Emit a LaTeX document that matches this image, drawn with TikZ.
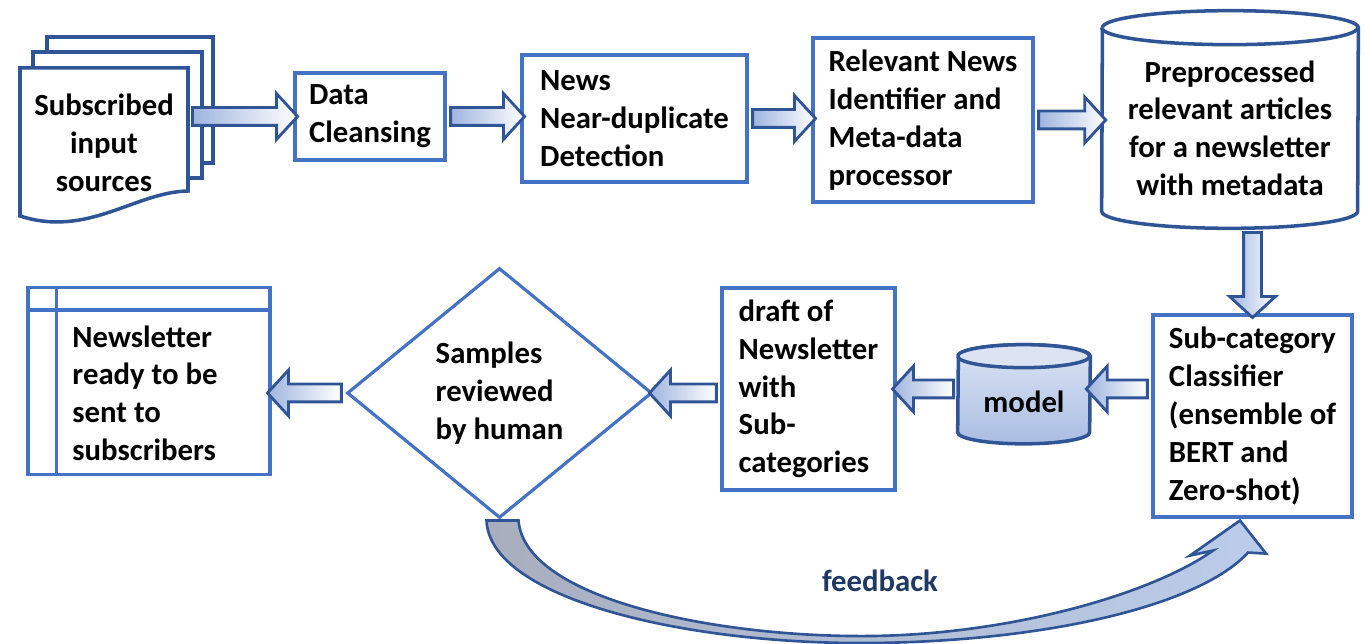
\documentclass[tikz,border=0pt]{standalone}
\usepackage{fontspec}
\setmainfont{Carlito}
\usetikzlibrary{shapes.geometric, shapes.arrows, calc}

\definecolor{boxblue}{HTML}{4472C4}
\definecolor{darkblue}{HTML}{2F5597}
\definecolor{flowfill}{HTML}{9FB5DF}
\definecolor{navy}{HTML}{1F3864}
\definecolor{modeltop}{HTML}{DCE4F3}
\definecolor{modelbot}{HTML}{A9BDE3}
\definecolor{fbgray}{HTML}{A9AEBD}
\definecolor{fbblue}{HTML}{BBCDEB}

% block arrow from one anchor to another
\newcommand{\flowto}[2]{%
  \path let \p1=(#1), \p2=(#2),
    \n1={atan2(\y2-\y1,\x2-\x1)}, \n2={veclen(\x2-\x1,\y2-\y1)} in
    node[flowarrow, rotate=\n1, minimum height=\n2] at ($(\p1)!0.5!(\p2)$) {};}

\begin{document}
\begin{tikzpicture}[
    x=0.02cm, y=0.02cm,
    font=\bfseries\fontsize{17.5}{21.5}\selectfont,
    proc/.style={draw=boxblue, line width=1.8pt, fill=white, align=left, inner sep=0pt},
    store/.style={draw=darkblue, line width=2pt, fill=white},
    flowarrow/.style={single arrow, draw=darkblue, line width=1.6pt,
        left color=flowfill, right color=white, inner ysep=0.15cm, inner xsep=0pt,
        single arrow head extend=0.28cm, single arrow tip angle=95, outer sep=0pt}
]
    \useasboundingbox (0,0) rectangle (1365,-644);

    % Subscribed sources (stack of documents)
    \draw[store] (47,-37) rectangle (213,-163);
    \draw[store] (33,-52) rectangle (202,-178);
    \draw[store] (20,-68) -- (188,-68) -- (188,-191)
        .. controls (135,-192) and (88,-238) .. (20,-216) -- cycle;
    \node[align=center, minimum width=3.36cm, minimum height=2.4cm, inner sep=0pt] (src) at (104,-143)
        {Subscribed\\input\\sources};

    % Top row of steps
    \node[proc, minimum width=3cm, minimum height=1.74cm] (clean) at (370,-116.5) {Data\\Cleansing};
    \node[proc, minimum width=4.5cm, minimum height=2.54cm] (near) at (634.5,-118.5)
        {News\\Near-duplicate\\Detection};
    \node[proc, minimum width=4.4cm, minimum height=3.28cm] (relevant) at (923,-120)
        {Relevant News\\Identifier and\\Meta-data\\processor};

    % Preprocessed articles store
    \node[minimum width=5.12cm, minimum height=3.32cm, inner sep=0pt] (prep) at (1230,-128) {};
    \draw[store] (prep.south west) arc[start angle=180, end angle=360, x radius=2.56cm, y radius=0.34cm]
        -- ($(prep.north east)+(0,17)$) arc[start angle=0, end angle=180, x radius=2.56cm, y radius=0.34cm]
        -- cycle;
    \draw[store] ($(prep.north west)+(0,17)$) arc[start angle=180, end angle=360, x radius=2.56cm, y radius=0.34cm];
    \node[align=center] at (prep) {Preprocessed\\relevant articles\\for a newsletter\\with metadata};

    % Bottom row
    \node[proc, minimum width=3.98cm, minimum height=4.04cm] (sub) at (1252.5,-416)
        {Sub-category\\Classifier\\(ensemble of\\BERT and\\Zero-shot)};
    \node[minimum width=2.64cm, minimum height=1.28cm, inner sep=0pt] (model) at (1024,-400) {};
    \draw[store, top color=modeltop, bottom color=modelbot] (model.south west)
        arc[start angle=180, end angle=360, x radius=1.32cm, y radius=0.23cm]
        -- ($(model.north east)+(0,11.5)$) arc[start angle=0, end angle=180, x radius=1.32cm, y radius=0.23cm]
        -- cycle;
    \draw[store, fill=modeltop] ($(model.north west)+(0,11.5)$)
        arc[start angle=180, end angle=360, x radius=1.32cm, y radius=0.23cm]
        arc[start angle=0, end angle=180, x radius=1.32cm, y radius=0.23cm];
    \node at ($(model)+(0,-2)$) {model};
    \node[proc, minimum width=3.46cm, minimum height=4.04cm] (draft) at (808.5,-389)
        {draft of\\Newsletter\\with\\Sub-\\categories};
    \node[proc, diamond, aspect=1.22, minimum width=6.1cm, minimum height=5cm] (review) at (499.5,-393)
        {Samples\\reviewed\\by human};
    \node[proc, minimum width=4.84cm, minimum height=3.74cm] (letter) at (149,-381) {};
    \draw[boxblue, line width=1.8pt] ($(letter.north west)+(0,-24)$) -- ($(letter.north east)+(0,-24)$);
    \draw[boxblue, line width=1.8pt] ($(letter.north west)+(30,0)$) -- ($(letter.south west)+(30,0)$);
    \node[align=left] (lettertext) at (145,-393) {Newsletter\\ready to be\\sent to\\subscribers};

    % Block arrows between the steps
    \flowto{src.east |- clean.west}{clean.west}
    \flowto{clean.east}{clean.east -| near.west}
    \flowto{near.east}{near.east -| relevant.west}
    \flowto{relevant.east}{relevant.east -| prep.west}
    \flowto{$(prep.south -| sub.north)+(0,-17)$}{sub.north}
    \flowto{sub.west |- draft.east}{model.east |- draft.east}
    \flowto{model.west |- draft.east}{draft.east}
    \flowto{draft.west |- review.east}{review.east}
    \flowto{review.west}{review.west -| letter.east}

    % Feedback loop
    \draw[darkblue, line width=1.5pt, left color=fbgray, right color=fbblue]
        ($(review.south)+(-13,-1)$) .. controls (490,-600) and (690,-645) .. (873,-643)
        .. controls (1050,-641) and (1200,-605) .. ($(sub.south)+(-4.5,-34)$)
        -- ($(sub.south)+(13.5,-35)$) -- ($(sub.south)+(-12.5,-2)$) -- ($(sub.south)+(-62.5,-37)$)
        -- ($(sub.south)+(-39.5,-32)$) .. controls (1150,-595) and (1010,-634) .. (873,-636)
        .. controls (720,-638) and (525,-600) .. ($(review.south)+(19,-1)$) -- cycle;
    \node[text=navy] (fb) at (880,-581) {feedback};
\end{tikzpicture}
\end{document}
